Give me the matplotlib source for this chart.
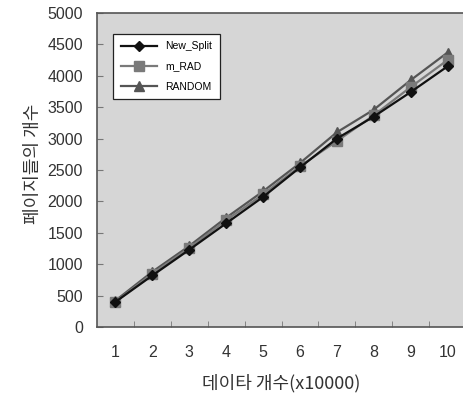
import matplotlib
matplotlib.use("Agg")
import matplotlib.pyplot as plt
from matplotlib.ticker import FixedLocator

plt.rcParams['font.family'] = ['Liberation Sans', 'Noto Sans CJK KR', 'DejaVu Sans']

# data counts (x10000) and number of pages per method
categories = [1, 2, 3, 4, 5, 6, 7, 8, 9, 10]
new_split = [400, 820, 1230, 1650, 2070, 2540, 3000, 3350, 3740, 4150]
m_rad = [400, 850, 1260, 1700, 2110, 2560, 2960, 3370, 3820, 4250]
random_split = [420, 880, 1290, 1740, 2160, 2610, 3100, 3460, 3930, 4370]
y_ticks = [0, 500, 1000, 1500, 2000, 2500, 3000, 3500, 4000, 4500, 5000]

fig = plt.figure(figsize=(4.63, 4.05), dpi=100)
ax = fig.add_axes([0.2095, 0.1926, 0.797, 0.7754])
ax.set_facecolor('#d6d6d6')

ax.plot(categories, new_split, color='#111111', lw=1.6, marker='D', ms=5.5,
        label='New_Split', zorder=4)
ax.plot(categories, m_rad, color='#7a7a7a', lw=1.6, marker='s', ms=6.5,
        label='m_RAD', zorder=3)
ax.plot(categories, random_split, color='#555555', lw=1.6, marker='^', ms=7,
        label='RANDOM', zorder=2)

ax.set_xlim(0.5, 10.5)
ax.set_ylim(0, 5000)
ax.set_yticks(y_ticks)
ax.set_yticklabels([str(v) for v in y_ticks], fontsize=11.5, color='#333333')
ax.set_xticks(categories)
ax.set_xticklabels([str(c) for c in categories], fontsize=11.5, color='#333333')
ax.xaxis.set_minor_locator(FixedLocator([c + 0.5 for c in categories[:-1]]))
ax.tick_params(axis='x', which='major', length=0, pad=13)
ax.tick_params(axis='x', which='minor', direction='in', length=4, color='#777777')
ax.tick_params(axis='y', direction='in', length=4, color='#777777', pad=10)

for side in ['left', 'bottom', 'top', 'right']:
    ax.spines[side].set_color('#555555')
    ax.spines[side].set_linewidth(1.2)

ax.set_ylabel('페이지들의 개수', fontsize=13, color='#333333',
              family=['Noto Sans CJK KR', 'DejaVu Sans'])
ax.yaxis.set_label_coords(-0.15, 0.52)
ax.set_xlabel('데이타 개수(x10000)', fontsize=13, color='#333333',
              family=['Noto Sans CJK KR', 'DejaVu Sans'])
ax.xaxis.set_label_coords(0.5, -0.15)

leg = ax.legend(loc='upper left', bbox_to_anchor=(0.03, 0.95), fontsize=7.5,
                frameon=True, fancybox=False, edgecolor='#222222',
                facecolor='white', framealpha=1, handlelength=3.5,
                borderpad=0.7, labelspacing=1.0)
leg.get_frame().set_linewidth(0.9)

fig.savefig('out.png', dpi=100, facecolor='white')
